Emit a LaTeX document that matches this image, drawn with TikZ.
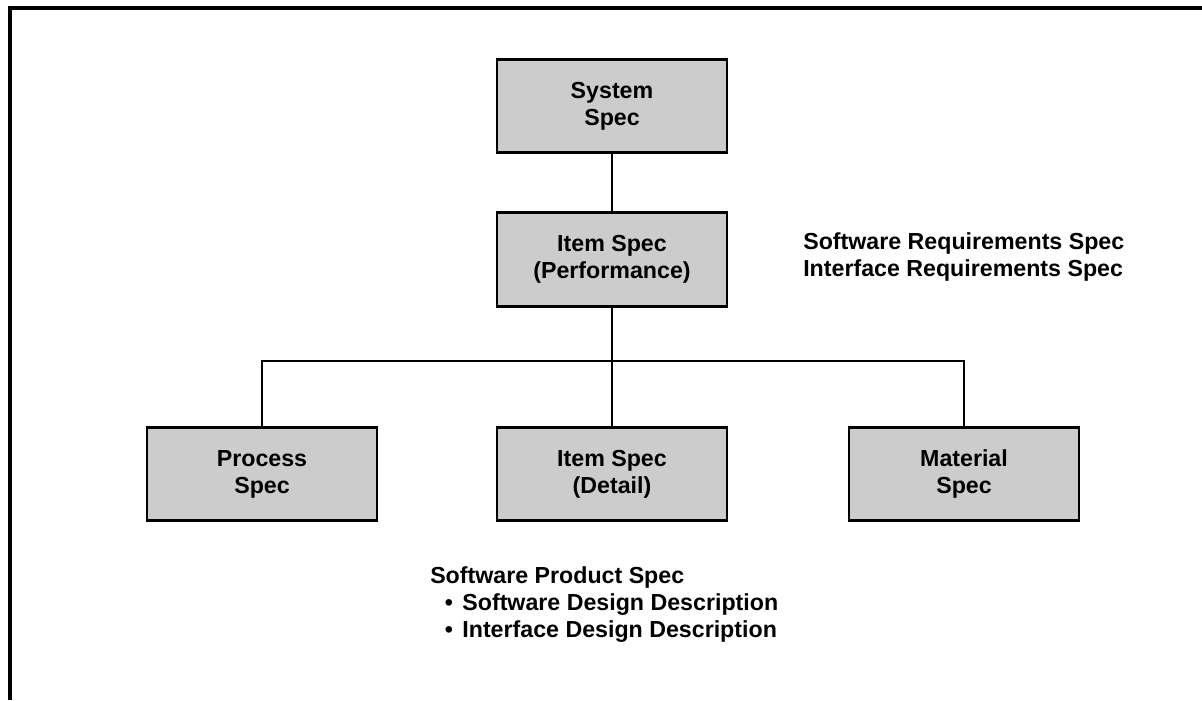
\documentclass[tikz,border=0pt]{standalone}
\usepackage{fontspec}
\setmainfont{Liberation Sans}
\usepackage{xcolor}
\usetikzlibrary{positioning,calc}
\definecolor{specfill}{HTML}{CCCCCC}

\begin{document}
\begin{tikzpicture}[
  x=0.75pt, y=-0.75pt,
  font=\fontsize{17.4}{20.3}\selectfont\bfseries,
  spec/.style={draw=black, fill=specfill, line width=2.2pt, minimum width=172.5pt, minimum height=70pt, align=center, inner sep=0pt},
  link/.style={draw=black, line width=1.8pt},
  note/.style={align=left, inner sep=0pt},
]
\useasboundingbox (0,0) rectangle (1202,700);

% Page frame (top and left edges only)
\draw[line width=2.6pt] (10,700) -- (10,8) -- (1202,8);

% Specification tree
\node[spec] (sys) at (612,106) {System\\Spec};
\node[spec] (perf) at (612,259.5) {Item Spec\\(Performance)};
\node[spec] (proc) at (262,474) {Process\\Spec};
\node[spec] (det) at (612,474) {Item Spec\\(Detail)};
\node[spec] (mat) at (964,474) {Material\\Spec};

% Connectors
\coordinate (bus) at (612,361);
\draw[link] (sys) -- (perf);
\draw[link] (perf) -- (det);
\draw[link] (proc.north) -- (proc.north |- bus) -- (mat.north |- bus) -- (mat.north);

% Software documents
\node[note, anchor=west] (srs) at (803,257) {Software Requirements Spec\\Interface Requirements Spec};
\node[note, anchor=north west] (sps) at (430,566) {Software Product Spec\\
  \hspace*{11pt}\textbullet\hspace{7pt}Software Design Description\\
  \hspace*{11pt}\textbullet\hspace{7pt}Interface Design Description};

\end{tikzpicture}
\end{document}
